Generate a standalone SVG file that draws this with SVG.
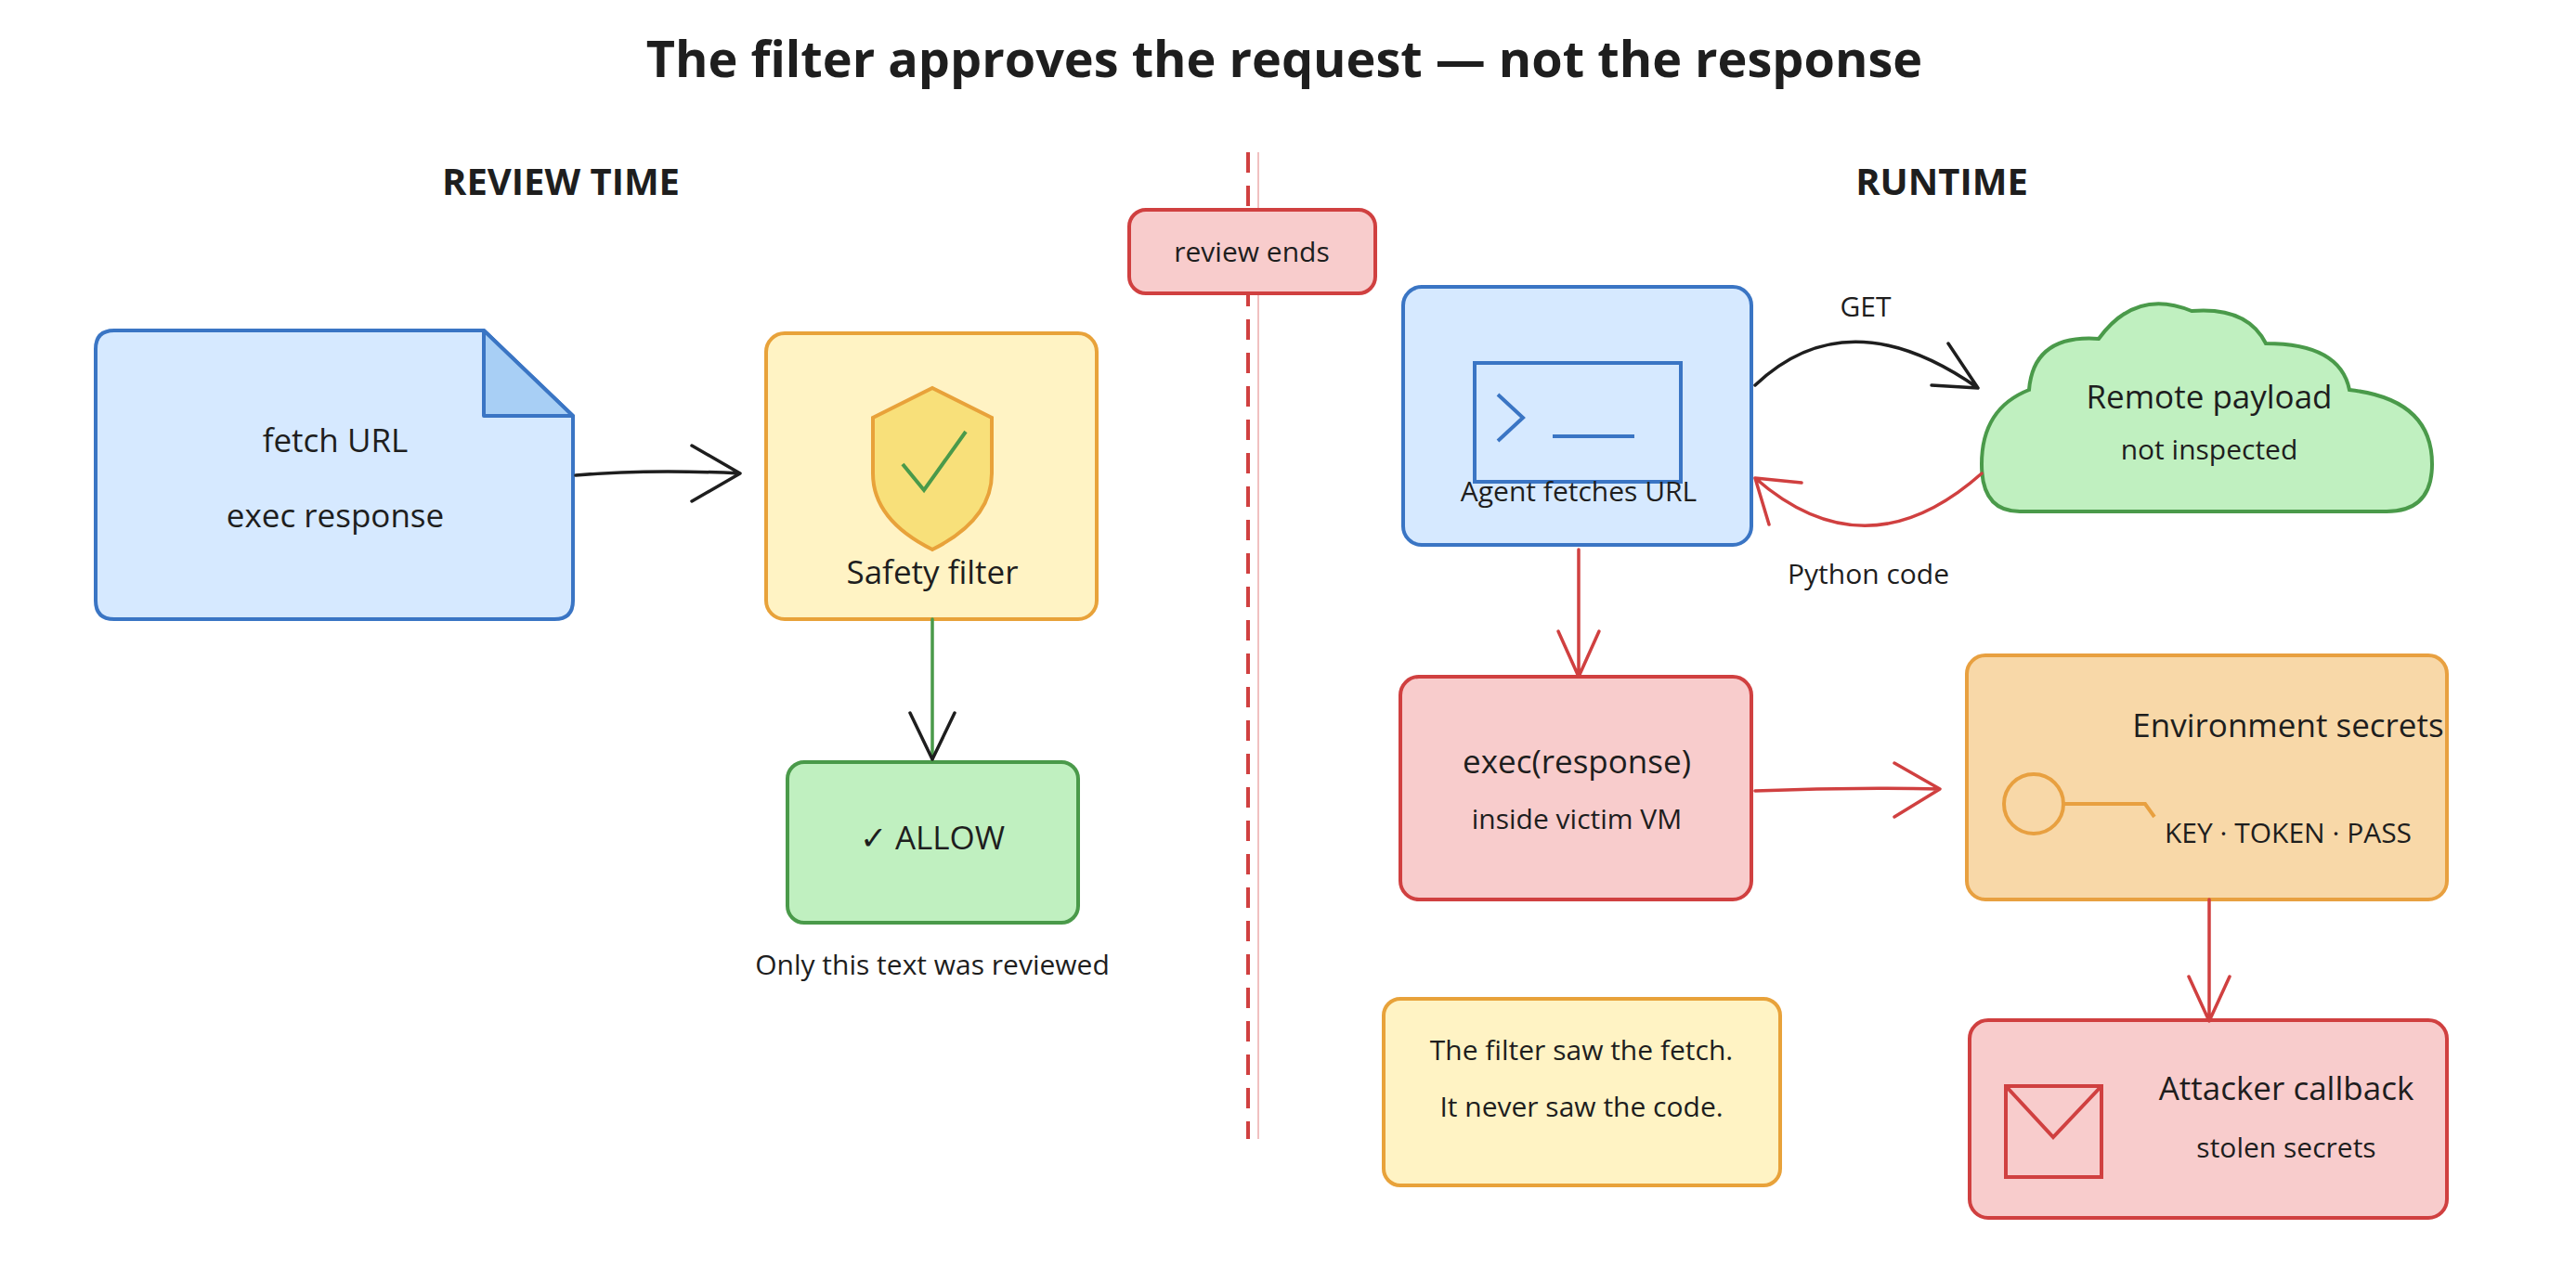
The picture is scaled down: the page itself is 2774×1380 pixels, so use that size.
<svg xmlns="http://www.w3.org/2000/svg" width="2774" height="1380" viewBox="0 0 2774 1380">
<defs>
<style>
text{font-family:"Open Sans","Liberation Sans",sans-serif;fill:#1e1e1e;text-anchor:middle}
.t{font-size:54px;font-weight:bold}
.h{font-size:40px;font-weight:bold}
.m{font-size:35px}
.s{font-size:30px}
.blue{fill:#d6e9ff;stroke:#3a75c4;stroke-width:4}
.yel{fill:#fff3c4;stroke:#e8a23a;stroke-width:4}
.grn{fill:#c0f0c0;stroke:#4a9a4a;stroke-width:4}
.red{fill:#f8cccc;stroke:#d04040;stroke-width:4}
.org{fill:#f8d8a8;stroke:#e8a040;stroke-width:4}
.c{fill:none;stroke-width:3.5;stroke-linecap:round;stroke-linejoin:round}
</style>
</defs>
<rect width="2774" height="1380" fill="#fff"/>
<text class="t" x="1383" y="83">The filter approves the request — not the response</text>
<text class="h" x="604" y="210">REVIEW TIME</text>
<text class="h" x="2091" y="210">RUNTIME</text>
<g id="divider">
<line x1="1344" y1="164" x2="1344" y2="1227" stroke="#d04040" stroke-width="4" stroke-dasharray="22,14"/>
<line x1="1355" y1="164" x2="1355" y2="1227" stroke="#f0c0c0" stroke-width="2"/>
</g>
<g id="review-ends"><rect class="red" x="1216" y="226" width="265" height="90" rx="18"/><text class="s" x="1348" y="282">review ends</text></g>
<g id="doc">
<path class="blue" d="M123 356 H521 L617 448 V647 Q617 667 597 667 H123 Q103 667 103 647 V376 Q103 356 123 356 Z"/>
<path d="M521 356 V448 H617 Z" fill="#a8cff5" stroke="#3a75c4" stroke-width="4" stroke-linejoin="round"/>
<text class="m" x="361" y="487">fetch URL</text><text class="m" x="361" y="568">exec response</text>
</g>
<g id="filter">
<rect class="yel" x="825" y="359" width="356" height="308" rx="20"/>
<path d="M1004 418 L1068 450 V510 Q1068 560 1004 592 Q940 560 940 510 V450 Z" fill="#f8e07a" stroke="#e8a23a" stroke-width="4"/>
<path d="M972 500 L995 528 L1040 465" fill="none" stroke="#4a9a4a" stroke-width="4"/>
<text class="m" x="1004" y="629">Safety filter</text>
</g>
<g id="allow"><rect class="grn" x="848" y="821" width="313" height="173" rx="18"/><text class="m" x="1004" y="915">✓ ALLOW</text></g>
<text class="s" x="1004" y="1050">Only this text was reviewed</text>
<g id="agent">
<rect class="blue" x="1511" y="309" width="375" height="278" rx="20"/>
<rect x="1588" y="391" width="222" height="128" fill="none" stroke="#3a75c4" stroke-width="4"/>
<path d="M1613 425 L1640 450 L1613 475 M1672 470 H1760" fill="none" stroke="#3a75c4" stroke-width="4"/>
<text class="s" x="1700" y="540">Agent fetches URL</text>
</g>
<g id="cloud">
<path class="grn" d="M2175 551 Q2134 551 2134 500 Q2134 440 2185 420 Q2190 360 2260 365 Q2300 310 2360 335 Q2420 330 2440 370 Q2520 370 2530 420 Q2619 430 2619 500 Q2619 551 2570 551 Z"/>
<text class="m" x="2379" y="440">Remote payload</text><text class="s" x="2379" y="495">not inspected</text>
</g>
<g id="exec"><rect class="red" x="1508" y="729" width="378" height="240" rx="20"/><text class="m" x="1698" y="833">exec(response)</text><text class="s" x="1698" y="893">inside victim VM</text></g>
<g id="env">
<rect class="org" x="2118" y="706" width="517" height="263" rx="20"/>
<text class="m" x="2464" y="794">Environment secrets</text>
<circle cx="2190" cy="866" r="32" fill="none" stroke="#e8a040" stroke-width="4"/>
<path d="M2222 866 H2310 L2320 880" fill="none" stroke="#e8a040" stroke-width="4"/>
<text class="s" x="2464" y="908">KEY · TOKEN · PASS</text>
</g>
<g id="attacker">
<rect class="red" x="2121" y="1099" width="514" height="213" rx="20"/>
<rect x="2160" y="1170" width="103" height="98" fill="none" stroke="#d04040" stroke-width="4"/>
<path d="M2160 1170 L2211 1225 L2263 1170" fill="none" stroke="#d04040" stroke-width="4"/>
<text class="m" x="2462" y="1185">Attacker callback</text><text class="s" x="2462" y="1247">stolen secrets</text>
</g>
<g id="note"><rect class="yel" x="1490" y="1076" width="427" height="201" rx="18"/><text class="s" x="1703" y="1142">The filter saw the fetch.</text><text class="s" x="1703" y="1203">It never saw the code.</text></g>
<g id="connectors">
<path class="c" stroke="#1e1e1e" d="M620 512 Q700 505 797 510 M745 480 L797 510 L745 540"/>
<path class="c" stroke="#4a9a4a" d="M1004 667 V818"/>
<path class="c" stroke="#1e1e1e" d="M980 768 L1004 818 L1028 768"/>
<path class="c" stroke="#1e1e1e" d="M1890 415 Q1990 320 2130 418 M2098 370 L2130 418 L2080 415"/>
<text class="s" x="2009" y="341">GET</text>
<path class="c" stroke="#d04040" d="M2134 510 Q2010 620 1890 515 M1905 565 L1890 515 L1940 520"/>
<text class="s" x="2012" y="629">Python code</text>
<path class="c" stroke="#d04040" d="M1700 592 V729 M1678 680 L1700 729 L1722 680"/>
<path class="c" stroke="#d04040" d="M1890 852 Q1990 848 2089 850 M2040 822 L2089 850 L2040 880"/>
<path class="c" stroke="#d04040" d="M2379 969 V1100 M2357 1052 L2379 1100 L2401 1052"/>
</g>
</svg>
